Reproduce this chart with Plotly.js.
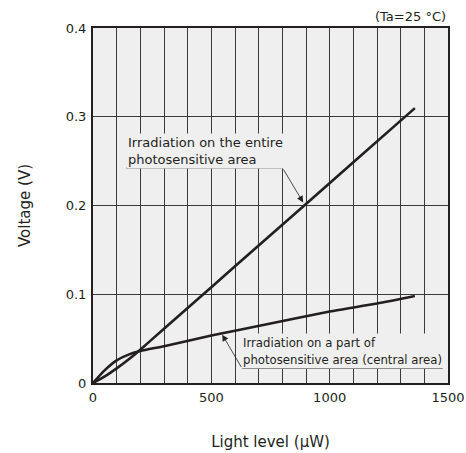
<!DOCTYPE html>
<html>
<head>
<meta charset="utf-8">
<script src="https://cdn.plot.ly/plotly-3.0.1.min.js"></script>
<style>html,body{margin:0;padding:0;background:#fff;}#chart{width:466px;height:453px;}</style>
</head>
<body>
<div id="chart"></div>
<script>
// Light level (µW) and output voltage (V)
const entireX = [0, 50, 100, 150, 190, 300, 500, 700, 900, 1100, 1360];
const entireY = [0, 0.0075, 0.0165, 0.0265, 0.0353, 0.0611, 0.108, 0.1549, 0.2018, 0.2487, 0.3097];
const partX = [0, 50, 100, 150, 200, 300, 500, 750, 1000, 1200, 1360];
const partY = [0, 0.0145, 0.0255, 0.032, 0.036, 0.0415, 0.0535, 0.067, 0.0805, 0.0895, 0.098];

const entireLabel = "Irradiation on the entire<br>photosensitive area";
const partLabel = "Irradiation on a part of<br>photosensitive area (central area)";
const noteLabel = "(Ta=25 °C)";
const xTitle = "Light level (µW)";
const yTitle = "Voltage (V)";

const ink = "#231f20";
const font = "DejaVu Sans, Verdana, sans-serif";
const condensed = "DejaVu Sans Condensed, DejaVu Sans, sans-serif";

const traces = [
  {x: entireX, y: entireY, mode: "lines", line: {color: ink, width: 2.6, shape: "spline", smoothing: 0.5}, hoverinfo: "skip"},
  {x: partX, y: partY, mode: "lines", line: {color: ink, width: 2.6, shape: "spline", smoothing: 0.6}, hoverinfo: "skip"}
];

const layout = {
  width: 466, height: 453,
  margin: {l: 93, r: 18, t: 28, b: 70, pad: 0},
  paper_bgcolor: "#ffffff",
  plot_bgcolor: "#efefef",
  showlegend: false,
  font: {family: font, size: 13, color: ink},
  xaxis: {
    range: [0, 1500], dtick: 500, tick0: 0,
    showgrid: true, gridcolor: "#3a3a3a", gridwidth: 1,
    minor: {dtick: 100, showgrid: true, gridcolor: "#3a3a3a", gridwidth: 1},
    showline: true, linecolor: ink, linewidth: 2, mirror: true,
    zeroline: false, ticks: "", ticklabelstandoff: 1,
    tickfont: {family: font, size: 13, color: ink},
    title: {text: xTitle, font: {family: font, size: 15, color: ink}, standoff: 33}
  },
  yaxis: {
    range: [0, 0.4], dtick: 0.1, tick0: 0,
    showgrid: true, gridcolor: "#3a3a3a", gridwidth: 1,
    showline: true, linecolor: ink, linewidth: 2, mirror: true,
    zeroline: false, ticks: "", ticklabelstandoff: 2,
    tickfont: {family: font, size: 13, color: ink},
    title: {text: yTitle, font: {family: font, size: 15, color: ink}, standoff: 31}
  },
  shapes: [
    {type: "line", xref: "x", yref: "y", x0: 140, x1: 801, y0: 0.2423, y1: 0.2423, line: {color: ink, width: 1}},
    {type: "line", xref: "x", yref: "y", x0: 630, x1: 1478, y0: 0.0164, y1: 0.0164, line: {color: ink, width: 1}}
  ],
  annotations: [
    {text: entireLabel, xref: "x", yref: "y", x: 140, y: 0.2822, xanchor: "left", yanchor: "top", align: "left",
     showarrow: false, bgcolor: "#efefef", borderpad: 1, font: {family: font, size: 13, color: ink}},
    {text: "", xref: "x", yref: "y", x: 888, y: 0.2035, axref: "x", ayref: "y", ax: 801, ay: 0.2423,
     showarrow: true, arrowhead: 2, arrowsize: 1.6, arrowwidth: 0.8, arrowcolor: ink, standoff: 0, startstandoff: 0},
    {text: partLabel, xref: "x", yref: "y", x: 625, y: 0.0564, xanchor: "left", yanchor: "top", align: "left",
     showarrow: false, bgcolor: "#efefef", borderpad: 1, font: {family: condensed, size: 13, color: ink}},
    {text: "", xref: "x", yref: "y", x: 546, y: 0.0545, axref: "x", ayref: "y", ax: 630, ay: 0.0164,
     showarrow: true, arrowhead: 2, arrowsize: 1.6, arrowwidth: 0.8, arrowcolor: ink, standoff: 0, startstandoff: 0},
    {text: noteLabel, xref: "paper", yref: "paper", x: 1, y: 1, xanchor: "right", yanchor: "bottom",
     showarrow: false, yshift: 2, font: {family: font, size: 13, color: ink}}
  ]
};

Plotly.newPlot("chart", traces, layout, {staticPlot: true, displayModeBar: false});
</script>
</body>
</html>
